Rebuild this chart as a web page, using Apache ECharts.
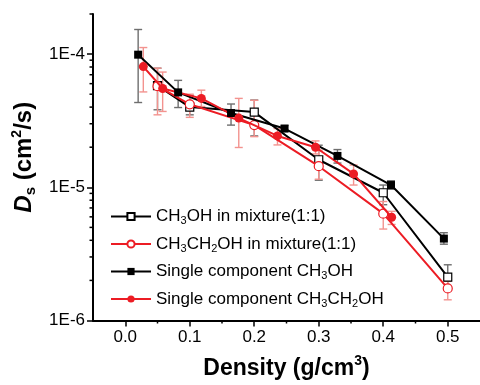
<!DOCTYPE html>
<html><head><meta charset="utf-8">
<script src="https://cdn.jsdelivr.net/npm/echarts@6/dist/echarts.min.js"></script>
<style>html,body{margin:0;padding:0;background:#fff}#c{width:480px;height:385px}</style>
</head><body><div id="c"></div>
<script>
// ---- data ----
const seriesNames = ['CH3OH in mixture(1:1)', 'CH3CH2OH in mixture(1:1)', 'Single component CH3OH', 'Single component CH3CH2OH'];

const xMixMeOH = [0.05, 0.10, 0.20, 0.30, 0.40, 0.50];
const yMixMeOH = [5.8e-5, 4.0e-5, 3.67e-5, 1.61e-5, 9.1e-6, 2.12e-6];
const loMixMeOH = [3.82e-5, 3.5e-5, 2.43e-5, 1.13e-5, 7.4e-6, 1.78e-6];
const hiMixMeOH = [7.84e-5, 4.9e-5, 4.52e-5, 2.07e-5, 1.04e-5, 2.62e-6];

const xMixEtOH = [0.05, 0.10, 0.20, 0.30, 0.40, 0.50];
const yMixEtOH = [5.74e-5, 4.2e-5, 2.93e-5, 1.44e-5, 6.34e-6, 1.74e-6];
const loMixEtOH = [3.5e-5, 3.35e-5, 2.4e-5, 1.15e-5, 4.86e-6, 1.43e-6];
const hiMixEtOH = [7.84e-5, 5.0e-5, 4.5e-5, 1.9e-5, 7.82e-6, 1.97e-6];

const xPureMeOH = [0.020, 0.082, 0.164, 0.247, 0.329, 0.412, 0.494];
const yPureMeOH = [9.9e-5, 5.16e-5, 3.61e-5, 2.76e-5, 1.72e-5, 1.04e-5, 4.12e-6];
const loPureMeOH = [4.33e-5, 3.97e-5, 2.93e-5, 2.63e-5, 1.52e-5, 9.66e-6, 3.74e-6];
const hiPureMeOH = [1.53e-4, 6.35e-5, 4.22e-5, 2.91e-5, 1.92e-5, 1.12e-5, 4.56e-6];

const xPureEtOH = [0.028, 0.058, 0.118, 0.176, 0.236, 0.295, 0.354, 0.413];
const yPureEtOH = [8.06e-5, 5.52e-5, 4.65e-5, 3.31e-5, 2.43e-5, 2.0e-5, 1.26e-5, 5.96e-6];
const loPureEtOH = [5.2e-5, 3.71e-5, 4.04e-5, 1.99e-5, 2.08e-5, 1.78e-5, 1.04e-5, 5.26e-6];
const hiPureEtOH = [1.12e-4, 7.33e-5, 5.36e-5, 4.65e-5, 2.76e-5, 2.23e-5, 1.47e-5, 6.6e-6];

const xTickValues = [0.0, 0.1, 0.2, 0.3, 0.4, 0.5];
const xMinorTickValues = [0.05, 0.15, 0.25, 0.35, 0.45];
const yTickValues = [1e-6, 1e-5, 1e-4];
const yMinorTickValues = [2e-6, 3e-6, 4e-6, 5e-6, 6e-6, 7e-6, 8e-6, 9e-6,
  2e-5, 3e-5, 4e-5, 5e-5, 6e-5, 7e-5, 8e-5, 9e-5, 2e-4];

const X_MIN = -0.05, X_MAX = 0.55, Y_MIN = 1e-6, Y_MAX = 2e-4;

// ---- styles ----
const BLACK = '#000000', RED = '#ec1c24', GREY_ERR = '#6e6e6e', RED_ERR = '#f3938f';
const FONT = "'Liberation Sans', Arial, sans-serif";

const zip = (xs, ys) => xs.map((x, i) => [x, ys[i]]);
const zip3 = (xs, a, b) => xs.map((x, i) => [x, a[i], b[i]]);

function errSeries(data, color, z) {
  return {
    type: 'custom', coordinateSystem: 'cartesian2d', silent: true, z: z, clip: false,
    encode: { x: 0, y: [1, 2] },
    data: data,
    renderItem: function (params, api) {
      const x = api.value(0);
      const p1 = api.coord([x, api.value(1)]);
      const p2 = api.coord([x, api.value(2)]);
      const w = 4;
      const st = { stroke: color, lineWidth: 1.4 };
      return { type: 'group', children: [
        { type: 'line', shape: { x1: p1[0], y1: p1[1], x2: p2[0], y2: p2[1] }, style: st },
        { type: 'line', shape: { x1: p1[0] - w, y1: p1[1], x2: p1[0] + w, y2: p1[1] }, style: st },
        { type: 'line', shape: { x1: p2[0] - w, y1: p2[1], x2: p2[0] + w, y2: p2[1] }, style: st }
      ]};
    }
  };
}

function tickSeries(data, horizontal, len) {
  return {
    type: 'custom', coordinateSystem: 'cartesian2d', silent: true, z: 5, clip: false,
    data: data,
    renderItem: function (params, api) {
      const p = api.coord([api.value(0), api.value(1)]);
      const shape = horizontal
        ? { x1: p[0] - len, y1: p[1], x2: p[0], y2: p[1] }
        : { x1: p[0], y1: p[1], x2: p[0], y2: p[1] + len };
      return { type: 'line', shape: shape, style: { stroke: '#000', lineWidth: 1.5 } };
    }
  };
}

function richName(name) {
  return '{a|' + name.replace(/H(\d)/g, 'H}{b|$1}{a|') + '}';
}

const chart = echarts.init(document.getElementById('c'), null, { renderer: 'canvas' });
chart.setOption({
  animation: false,
  backgroundColor: '#ffffff',
  textStyle: { fontFamily: FONT },
  grid: { left: 93, right: -2, top: 14, bottom: 58, containLabel: false },
  legend: {
    data: seriesNames,
    orient: 'vertical', left: 105, top: 203,
    itemWidth: 40, itemHeight: 9, itemGap: 9,
    formatter: richName,
    textStyle: {
      rich: {
        a: { fontSize: 17, color: '#000', lineHeight: 20, verticalAlign: 'middle', fontFamily: FONT },
        b: { fontSize: 11, color: '#000', lineHeight: 10, verticalAlign: 'bottom', fontFamily: FONT }
      }
    },
    inactiveColor: '#ccc'
  },
  xAxis: {
    type: 'value', min: X_MIN, max: X_MAX,
    name: '{t|Density (g/cm}{p|3}{t|)}',
    nameLocation: 'middle', nameGap: 34,
    nameTextStyle: {
      rich: {
        t: { fontSize: 23, fontWeight: 'bold', color: '#000', lineHeight: 28, verticalAlign: 'middle', fontFamily: FONT },
        p: { fontSize: 14, fontWeight: 'bold', color: '#000', lineHeight: 13, verticalAlign: 'top', fontFamily: FONT }
      }
    },
    axisLine: { onZero: false, lineStyle: { color: '#000', width: 2 } },
    axisTick: { length: 6, lineStyle: { width: 1.5, color: '#000' }, customValues: xTickValues },
    axisLabel: { fontSize: 17, color: '#000', margin: 8, customValues: xTickValues,
      formatter: v => v.toFixed(1) },
    splitLine: { show: false }
  },
  yAxis: {
    type: 'log', logBase: 10, min: Y_MIN, max: Y_MAX,
    name: '{d|D}{s|s}{t| (cm}{p|2}{t|/s)}',
    nameLocation: 'middle', nameGap: 52,
    nameTextStyle: {
      padding: [0, 0, 0, 20],
      rich: {
        d: { fontSize: 24, fontWeight: 'bold', fontStyle: 'italic', color: '#000', lineHeight: 28, verticalAlign: 'middle', fontFamily: FONT },
        s: { fontSize: 15, fontWeight: 'bold', color: '#000', lineHeight: 14, verticalAlign: 'bottom', fontFamily: FONT },
        t: { fontSize: 24, fontWeight: 'bold', color: '#000', lineHeight: 28, verticalAlign: 'middle', fontFamily: FONT },
        p: { fontSize: 14, fontWeight: 'bold', color: '#000', lineHeight: 13, verticalAlign: 'top', fontFamily: FONT }
      }
    },
    axisLine: { show: true, onZero: false, lineStyle: { color: '#000', width: 2 } },
    axisTick: { show: true, length: 6, lineStyle: { width: 1.5, color: '#000' }, customValues: yTickValues },
    axisLabel: { fontSize: 17, color: '#000', margin: 8, customValues: yTickValues,
      formatter: v => '1E' + Math.round(Math.log10(v)) },
    splitLine: { show: false }
  },
  series: [
    errSeries(zip3(xMixMeOH, loMixMeOH, hiMixMeOH), GREY_ERR, 1),
    errSeries(zip3(xMixEtOH, loMixEtOH, hiMixEtOH), RED_ERR, 1),
    errSeries(zip3(xPureMeOH, loPureMeOH, hiPureMeOH), GREY_ERR, 1),
    errSeries(zip3(xPureEtOH, loPureEtOH, hiPureEtOH), RED_ERR, 1),
    tickSeries(xMinorTickValues.map(v => [v, Y_MIN]), false, 3),
    tickSeries(yMinorTickValues.map(v => [X_MIN, v]), true, 3.5),
    {
      name: seriesNames[0], type: 'line', data: zip(xMixMeOH, yMixMeOH), z: 2,
      symbol: 'rect', symbolSize: 8, showAllSymbol: true,
      lineStyle: { color: BLACK, width: 2 },
      itemStyle: { color: '#ffffff', borderColor: BLACK, borderWidth: 1.2 }
    },
    {
      name: seriesNames[1], type: 'line', data: zip(xMixEtOH, yMixEtOH), z: 3,
      symbol: 'circle', symbolSize: 9, showAllSymbol: true,
      lineStyle: { color: RED, width: 2 },
      itemStyle: { color: '#ffffff', borderColor: RED, borderWidth: 1.2 }
    },
    {
      name: seriesNames[2], type: 'line', data: zip(xPureMeOH, yPureMeOH), z: 4,
      symbol: 'rect', symbolSize: 8, showAllSymbol: true,
      lineStyle: { color: BLACK, width: 2 },
      itemStyle: { color: BLACK, borderColor: BLACK, borderWidth: 0 }
    },
    {
      name: seriesNames[3], type: 'line', data: zip(xPureEtOH, yPureEtOH), z: 4,
      symbol: 'circle', symbolSize: 9, showAllSymbol: true,
      lineStyle: { color: RED, width: 2 },
      itemStyle: { color: RED, borderColor: RED, borderWidth: 0 }
    }
  ]
});
</script>
</body></html>
